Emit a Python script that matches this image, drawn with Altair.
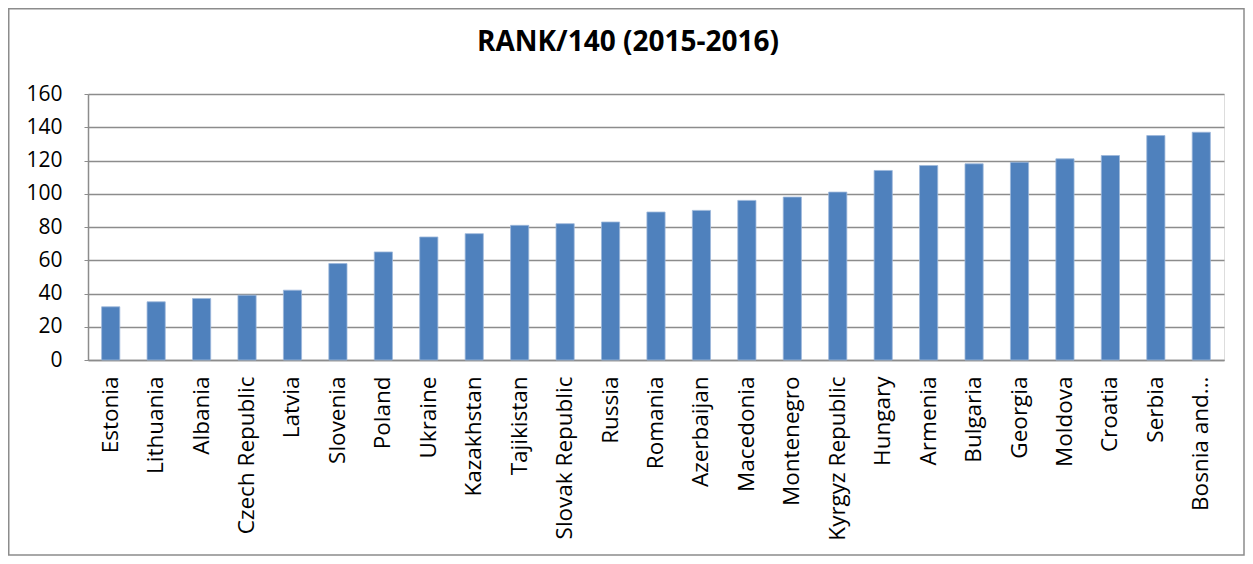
import altair as alt
import pandas as pd

countries = ["Estonia", "Lithuania", "Albania", "Czech Republic", "Latvia", "Slovenia",
             "Poland", "Ukraine", "Kazakhstan", "Tajikistan", "Slovak Republic", "Russia",
             "Romania", "Azerbaijan", "Macedonia", "Montenegro", "Kyrgyz Republic", "Hungary",
             "Armenia", "Bulgaria", "Georgia", "Moldova", "Croatia", "Serbia",
             "Bosnia and Herzegovina"]
ranks = [32, 35, 37, 39, 42, 58, 65, 74, 76, 81, 82, 83, 89, 90, 96, 98, 101, 114,
         117, 118, 119, 121, 123, 135, 137]
y_ticks = [0, 20, 40, 60, 80, 100, 120, 140, 160]

df = pd.DataFrame({"country": countries, "rank": ranks})

FONT = "Open Sans"
W, H = 1136, 266

bars = alt.Chart(df).mark_bar(
    color="#4F81BD", stroke="#9DB8DB", strokeWidth=0.8
).encode(
    x=alt.X("country:N", sort=countries, title=None,
            scale=alt.Scale(paddingInner=0.6, paddingOuter=0.3),
            axis=alt.Axis(labelAngle=-90, labelAlign="right", labelBaseline="middle",
                          labelPadding=16, ticks=False, domainColor="#8C8C8C",
                          domainWidth=1.5, labelFont=FONT, labelFontSize=22.5,
                          labelColor="#000000", labelLimit=300,
                          labelExpr="datum.label == 'Bosnia and Herzegovina' ? 'Bosnia and...' : datum.label")),
    y=alt.Y("rank:Q", title=None,
            scale=alt.Scale(domain=[0, 160], nice=False),
            axis=alt.Axis(values=y_ticks, grid=True, gridColor="#8C8C8C", gridWidth=1.4,
                          domainColor="#8C8C8C", domainWidth=1.5, tickColor="#8C8C8C",
                          tickSize=4, labelPadding=22, labelFont=FONT, labelFontSize=21,
                          labelColor="#000000"))
)

frame = alt.Chart(alt.Data(values=[{"a": 1}])).mark_rect(
    fill=None, stroke="#8C8C8C", strokeWidth=1.5
).encode(
    x=alt.value(-79.25), x2=alt.value(1156), y=alt.value(-85.25), y2=alt.value(461)
)

chart = alt.layer(frame, bars).properties(
    width=W, height=H,
    autosize=alt.AutoSizeParams(type="none"),
    padding={"left": 80, "top": 86, "right": 21, "bottom": 196},
    title=alt.TitleParams("RANK/140 (2015-2016)", font=FONT, fontSize=28, fontWeight="bold",
                          anchor="middle", dx=-28, offset=-71, baseline="alphabetic",
                          color="#000000"),
).configure_view(stroke=None).configure(background="white")

chart.save("out.html", embed_options={"renderer": "svg", "actions": False})
